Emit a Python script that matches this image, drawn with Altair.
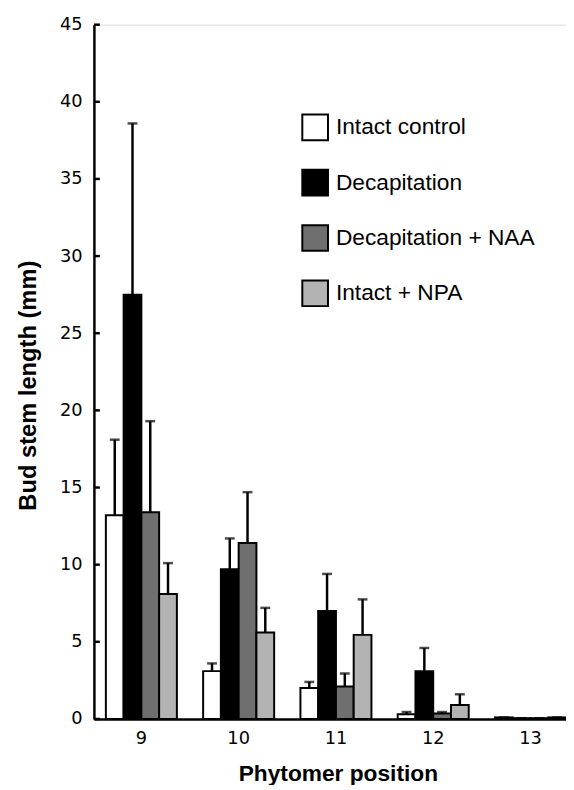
import altair as alt
import pandas as pd

positions = [9, 10, 11, 12, 13]
treatments = ["Intact control", "Decapitation", "Decapitation + NAA", "Intact + NPA"]
colors = ["#ffffff", "#000000", "#6f6f6f", "#b3b3b3"]

means = {
    "Intact control": [13.2, 3.1, 2.0, 0.3, 0.1],
    "Decapitation": [27.5, 9.7, 7.0, 3.1, 0.05],
    "Decapitation + NAA": [13.4, 11.4, 2.1, 0.35, 0.05],
    "Intact + NPA": [8.1, 5.6, 5.45, 0.9, 0.1],
}
errors = {
    "Intact control": [4.9, 0.5, 0.4, 0.15, 0.0],
    "Decapitation": [11.1, 2.0, 2.4, 1.5, 0.0],
    "Decapitation + NAA": [5.9, 3.3, 0.85, 0.1, 0.0],
    "Intact + NPA": [2.0, 1.6, 2.3, 0.7, 0.0],
}
y_ticks = [0, 5, 10, 15, 20, 25, 30, 35, 40, 45]

rows = []
for t in treatments:
    for i, p in enumerate(positions):
        m = means[t][i]
        e = errors[t][i]
        rows.append({"pos": p, "treatment": t, "mean": m, "upper": m + e})
df = pd.DataFrame(rows)
ticks_df = pd.DataFrame({"v": y_ticks})

FONT_NUM = "DejaVu Sans"
FONT_TXT = "Liberation Sans"

x_enc = alt.X(
    "pos:O",
    sort=positions,
    scale=alt.Scale(paddingInner=0.27, paddingOuter=0.0614, align=1),
    axis=alt.Axis(
        title="Phytomer position",
        labelAngle=0,
        labelFont=FONT_NUM,
        labelFontSize=18,
        labelColor="black",
        labelPadding=11,
        ticks=False,
        tickSize=0,
        domainColor="black",
        domainWidth=2.5,
        titleFont=FONT_TXT,
        titleFontSize=23,
        titleFontWeight="bold",
        titleColor="black",
        titlePadding=15,
        titleX=247,
        zindex=1,
    ),
)
xoff = alt.XOffset("treatment:N", sort=treatments, scale=alt.Scale(paddingInner=0, paddingOuter=0))
y_scale = alt.Scale(domain=[0, 45], nice=False)

bars = alt.Chart(df).mark_bar(stroke="black", strokeWidth=2).encode(
    x=x_enc,
    xOffset=xoff,
    y=alt.Y(
        "mean:Q",
        scale=y_scale,
        axis=alt.Axis(
            title="Bud stem length (mm)",
            values=y_ticks,
            grid=False,
            ticks=False,
            tickSize=0,
            labelFont=FONT_NUM,
            labelFontSize=18,
            labelColor="black",
            labelPadding=12,
            domainColor="black",
            domainWidth=2.5,
            titleFont=FONT_TXT,
            titleFontSize=24,
            titleFontWeight="bold",
            titleColor="black",
            titlePadding=19,
            titleY=365,
            zindex=1,
        ),
    ),
    fill=alt.Fill(
        "treatment:N",
        sort=treatments,
        scale=alt.Scale(domain=treatments, range=colors),
        legend=alt.Legend(
            title=None,
            orient="none",
            legendX=210,
            legendY=90,
            symbolType="square",
            symbolSize=676,
            symbolStrokeColor="black",
            symbolStrokeWidth=2,
            symbolOpacity=1,
            labelFont=FONT_TXT,
            labelFontSize=23,
            labelColor="black",
            labelOffset=7,
            rowPadding=22,
            padding=0,
            labelLimit=400,
        ),
    ),
)

err_lines = alt.Chart(df).mark_rule(color="black", strokeWidth=2.5).encode(
    x=alt.X("pos:O", sort=positions),
    xOffset=xoff,
    y=alt.Y("mean:Q", scale=y_scale),
    y2="upper:Q",
)

caps = alt.Chart(df).mark_tick(color="black", orient="horizontal", size=10, thickness=2.5).encode(
    x=alt.X("pos:O", sort=positions),
    xOffset=xoff,
    y=alt.Y("upper:Q", scale=y_scale),
)

inner_ticks = alt.Chart(ticks_df).mark_rule(color="black", strokeWidth=2.5).encode(
    y=alt.Y("v:Q", scale=y_scale),
    x=alt.value(0),
    x2=alt.value(6),
)

chart = alt.layer(bars, err_lines, caps, inner_ticks).properties(
    width=478,
    height=703,
    autosize=alt.AutoSizeParams(type="none"),
    padding={"left": 87, "top": 12, "right": 0, "bottom": 62},
).configure_view(stroke=None).configure(background="white")

chart.save("out.html", embed_options={"renderer": "svg", "actions": False})
